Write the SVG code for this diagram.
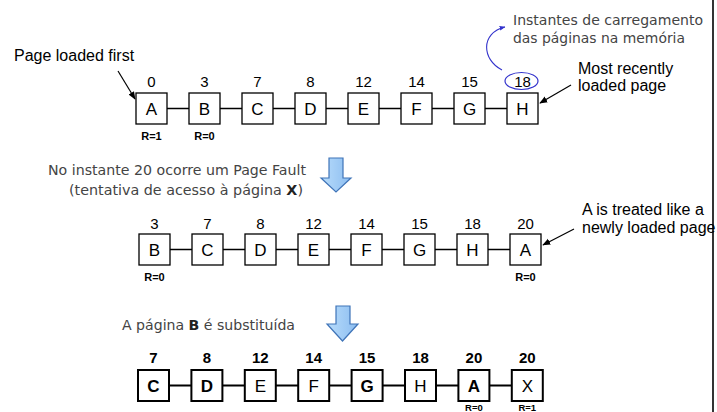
<svg xmlns="http://www.w3.org/2000/svg" width="717" height="412" viewBox="0 0 717 412">
<style>
.box{fill:#fff;stroke:#000;stroke-width:1.3}
.box3{fill:#fff;stroke:#000;stroke-width:2}
.lt{font-family:"Liberation Sans",Arial,sans-serif;font-size:17px;fill:#000;text-anchor:middle}
.num{font-family:"Liberation Sans",Arial,sans-serif;font-size:15px;fill:#000;text-anchor:middle}
.b{font-weight:bold}
.r{font-family:"Liberation Sans",Arial,sans-serif;font-size:11px;font-weight:bold;fill:#000;text-anchor:middle}
.rs{font-size:9.5px}
.lab{font-family:"Liberation Sans",Arial,sans-serif;font-size:16px;fill:#000}
.note{font-family:"DejaVu Sans",Verdana,sans-serif;font-size:14px;fill:#444}
.link{stroke:#000;stroke-width:1.3;fill:none}
.link3{stroke:#000;stroke-width:2;fill:none}
.ptr{stroke:#000;stroke-width:1.2;fill:none;marker-end:url(#ah)}
.barrow{fill:url(#bg);stroke:#3f74b8;stroke-width:1.2}
</style>
<defs>
<marker id="ah" viewBox="0 0 10 10" refX="9" refY="5" markerWidth="8" markerHeight="8" markerUnits="userSpaceOnUse" orient="auto"><path d="M0,1 L10,5 L0,9 Z" fill="#000"/></marker>
<marker id="bh" viewBox="0 0 10 10" refX="9" refY="5" markerWidth="6" markerHeight="6" markerUnits="userSpaceOnUse" orient="auto"><path d="M0,1 L10,5 L0,9 Z" fill="#3333cc"/></marker>
<linearGradient id="bg" x1="0" y1="0" x2="1" y2="0"><stop offset="0" stop-color="#b8dcfb"/><stop offset="1" stop-color="#8cbdf0"/></linearGradient>
</defs>
<rect width="717" height="412" fill="#fff"/>
<line x1="713" y1="0" x2="713" y2="412" stroke="#000" stroke-width="1.6"/>

<!-- annotations -->
<text class="lab" x="14" y="61">Page loaded first</text>
<text class="lab" x="578" y="74">Most recently</text>
<text class="lab" x="578" y="91">loaded page</text>
<text class="note" x="513" y="25" textLength="190" lengthAdjust="spacingAndGlyphs">Instantes de carregamento</text>
<text class="note" x="513" y="43" textLength="172" lengthAdjust="spacingAndGlyphs">das páginas na memória</text>
<ellipse cx="521.5" cy="81" rx="16.5" ry="8.5" fill="none" stroke="#3333cc" stroke-width="1.2"/>
<text class="note" x="48" y="175" textLength="258" lengthAdjust="spacingAndGlyphs">No instante 20 ocorre um Page Fault</text>
<text class="note" x="69" y="195" textLength="234" lengthAdjust="spacingAndGlyphs">(tentativa de acesso à página <tspan font-weight="bold" fill="#222">X</tspan>)</text>
<text class="lab" x="582" y="215">A is treated like a</text>
<text class="lab" x="582" y="233">newly loaded page</text>
<text class="note" x="122" y="330" textLength="173" lengthAdjust="spacingAndGlyphs">A página <tspan font-weight="bold" fill="#222">B</tspan> é substituída</text>

<g id="arrow1"><path class="barrow" d="M329,158 H343 V178 H351 L336,192 L321,178 H329 Z"/></g>
<g id="arrow2"><path class="barrow" d="M336,306 H350 V324 H358 L342.5,341 L327,324 H336 Z"/></g>

<!-- row 1 -->
<g id="r1A"><rect class="box" x="136" y="93" width="31" height="31"/><text class="lt" x="151.5" y="114.5">A</text><text class="num" x="151.5" y="87">0</text><text class="r" x="151.5" y="140">R=1</text></g>
<g id="r1B"><rect class="box" x="189" y="93" width="31" height="31"/><text class="lt" x="204.5" y="114.5">B</text><text class="num" x="204.5" y="87">3</text><text class="r" x="204.5" y="140">R=0</text></g>
<g id="r1C"><rect class="box" x="242" y="93" width="31" height="31"/><text class="lt" x="257.5" y="114.5">C</text><text class="num" x="257.5" y="87">7</text></g>
<g id="r1D"><rect class="box" x="295" y="93" width="31" height="31"/><text class="lt" x="310.5" y="114.5">D</text><text class="num" x="310.5" y="87">8</text></g>
<g id="r1E"><rect class="box" x="348" y="93" width="31" height="31"/><text class="lt" x="363.5" y="114.5">E</text><text class="num" x="363.5" y="87">12</text></g>
<g id="r1F"><rect class="box" x="401" y="93" width="31" height="31"/><text class="lt" x="416.5" y="114.5">F</text><text class="num" x="416.5" y="87">14</text></g>
<g id="r1G"><rect class="box" x="454" y="93" width="31" height="31"/><text class="lt" x="469.5" y="114.5">G</text><text class="num" x="469.5" y="87">15</text></g>
<g id="r1H"><rect class="box" x="507" y="93" width="31" height="31"/><text class="lt" x="522.5" y="114.5">H</text><text class="num" x="522.5" y="87">18</text></g>

<!-- row 2 -->
<g id="r2B"><rect class="box" x="139" y="234" width="31" height="31"/><text class="lt" x="154.5" y="255.5">B</text><text class="num" x="154.5" y="229">3</text><text class="r" x="154.5" y="281">R=0</text></g>
<g id="r2C"><rect class="box" x="192" y="234" width="31" height="31"/><text class="lt" x="207.5" y="255.5">C</text><text class="num" x="207.5" y="229">7</text></g>
<g id="r2D"><rect class="box" x="245" y="234" width="31" height="31"/><text class="lt" x="260.5" y="255.5">D</text><text class="num" x="260.5" y="229">8</text></g>
<g id="r2E"><rect class="box" x="298" y="234" width="31" height="31"/><text class="lt" x="313.5" y="255.5">E</text><text class="num" x="313.5" y="229">12</text></g>
<g id="r2F"><rect class="box" x="351" y="234" width="31" height="31"/><text class="lt" x="366.5" y="255.5">F</text><text class="num" x="366.5" y="229">14</text></g>
<g id="r2G"><rect class="box" x="404" y="234" width="31" height="31"/><text class="lt" x="419.5" y="255.5">G</text><text class="num" x="419.5" y="229">15</text></g>
<g id="r2H"><rect class="box" x="457" y="234" width="31" height="31"/><text class="lt" x="472.5" y="255.5">H</text><text class="num" x="472.5" y="229">18</text></g>
<g id="r2A"><rect class="box" x="510" y="234" width="31" height="31"/><text class="lt" x="525.5" y="255.5">A</text><text class="num" x="525.5" y="229">20</text><text class="r" x="525.5" y="281">R=0</text></g>

<!-- row 3 -->
<g id="r3C"><rect class="box3" x="138" y="370" width="31" height="31"/><text class="lt b" x="153.5" y="391.5">C</text><text class="num b" x="153.5" y="363">7</text></g>
<g id="r3D"><rect class="box3" x="191.4" y="370" width="31" height="31"/><text class="lt b" x="206.9" y="391.5">D</text><text class="num b" x="206.9" y="363">8</text></g>
<g id="r3E"><rect class="box3" x="244.8" y="370" width="31" height="31"/><text class="lt" x="260.3" y="391.5">E</text><text class="num b" x="260.3" y="363">12</text></g>
<g id="r3F"><rect class="box3" x="298.2" y="370" width="31" height="31"/><text class="lt" x="313.7" y="391.5">F</text><text class="num b" x="313.7" y="363">14</text></g>
<g id="r3G"><rect class="box3" x="351.6" y="370" width="31" height="31"/><text class="lt b" x="367.1" y="391.5">G</text><text class="num b" x="367.1" y="363">15</text></g>
<g id="r3H"><rect class="box3" x="405" y="370" width="31" height="31"/><text class="lt" x="420.5" y="391.5">H</text><text class="num b" x="420.5" y="363">18</text></g>
<g id="r3A"><rect class="box3" x="458.4" y="370" width="31" height="31"/><text class="lt b" x="473.9" y="391.5">A</text><text class="num b" x="473.9" y="363">20</text><text class="r rs" x="473.9" y="411">R=0</text></g>
<g id="r3X"><rect class="box3" x="511.8" y="370" width="31" height="31"/><text class="lt" x="527.3" y="391.5">X</text><text class="num b" x="527.3" y="363">20</text><text class="r rs" x="527.3" y="411">R=1</text></g>

<g id="connectors">
<path class="link" d="M167,108.5H189 M220,108.5H242 M273,108.5H295 M326,108.5H348 M379,108.5H401 M432,108.5H454 M485,108.5H507"/>
<path class="link" d="M170,249.5H192 M223,249.5H245 M276,249.5H298 M329,249.5H351 M382,249.5H404 M435,249.5H457 M488,249.5H510"/>
<path class="link3" d="M169,385.5H191.4 M222.4,385.5H244.8 M275.8,385.5H298.2 M329.2,385.5H351.6 M382.6,385.5H405 M436,385.5H458.4 M489.4,385.5H511.8"/>
<path class="ptr" d="M118,71 L135,99"/>
<path class="ptr" d="M571,85 L540,103"/>
<path class="ptr" d="M574,229 L543,245"/>
<path d="M502,70 C482,60 480,33 505,27" fill="none" stroke="#3333cc" stroke-width="1.1" marker-end="url(#bh)"/>
</g>
</svg>
